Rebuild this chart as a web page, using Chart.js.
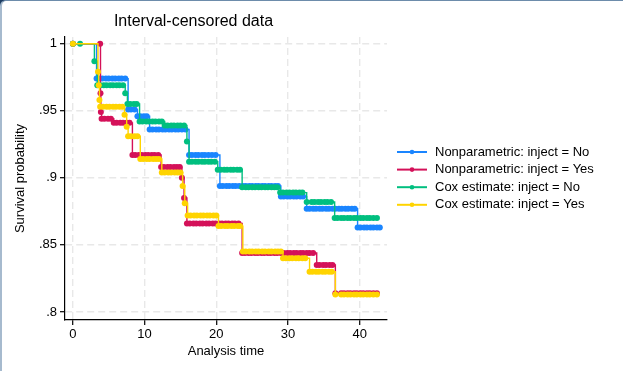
<!DOCTYPE html>
<html>
<head>
<meta charset="utf-8">
<title>Interval-censored data</title>
<script src="https://cdn.jsdelivr.net/npm/chart.js@4.4.0/dist/chart.umd.min.js"></script>
<style>
  html, body { margin: 0; padding: 0; background: #1d3d63; overflow: hidden; }
  #marco {
    position: absolute; left: 0; top: 0; width: 621px; height: 370px;
    background: #fff; border-left: 2px solid #a6bace; border-top: 1px solid #6d8cab;
    border-top-left-radius: 6px;
  }
  #grafico { position: absolute; left: 0; top: 0; }
</style>
</head>
<body>
<div id="marco"></div>
<canvas id="grafico" width="623" height="371"></canvas>
<script>
// Curvas de supervivencia - datos censurados por intervalo
// Cada punto: [tiempo, supervivencia]

const npNo = [
  [0, 1],
  [3.3, .974], [3.7, .974], [4.1, .974], [4.6, .974], [5.0, .974], [5.5, .974], [5.9, .974], [6.4, .974], [6.8, .974], [7.3, .974],
  [7.7, .951], [8.1, .951], [8.6, .951],
  [9.0, .946], [9.4, .946], [9.9, .946], [10.3, .946],
  [10.7, .936], [11.1, .936], [11.6, .936], [12.0, .936], [12.5, .936], [12.9, .936], [13.4, .936], [13.8, .936], [14.3, .936], [14.7, .936], [15.2, .936], [15.7, .936],
  [16.2, .917], [16.6, .917], [17.1, .917], [17.5, .917], [18.0, .917], [18.4, .917], [18.9, .917], [19.4, .917], [19.9, .917],
  [20.5, .894], [20.9, .894], [21.4, .894], [21.8, .894], [22.3, .894], [22.7, .894], [23.2, .894], [23.7, .894], [24.1, .894], [24.6, .894],
  [25.0, .894], [25.5, .894], [25.9, .894], [26.4, .894], [26.8, .894], [27.3, .894], [27.7, .894], [28.2, .894], [28.6, .894],
  [29.0, .886], [29.4, .886], [29.9, .886], [30.3, .886], [30.8, .886], [31.2, .886], [31.7, .886], [32.1, .886],
  [32.6, .877], [33.0, .877], [33.5, .877], [33.9, .877], [34.4, .877], [34.8, .877], [35.3, .877], [35.7, .877],
  [36.2, .877], [36.6, .877], [37.1, .877], [37.5, .877], [38.0, .877], [38.4, .877], [38.9, .877], [39.3, .877],
  [39.7, .863], [40.1, .863], [40.6, .863], [41.0, .863], [41.5, .863], [41.9, .863], [42.4, .863], [42.8, .863],
]

const npYes = [
  [0, 1], [3.8, 1],
  [3.85, .963], [3.9, .949],
  [4.0, .944], [4.4, .944], [4.9, .944], [5.3, .944],
  [5.7, .941], [6.1, .941], [6.6, .941], [7.0, .941], [7.5, .941], [7.9, .941],
  [8.3, .917], [8.7, .917], [9.2, .917], [9.6, .917], [10.1, .917], [10.5, .917], [11.0, .917], [11.4, .917], [11.9, .917],
  [12.3, .908], [12.7, .908], [13.2, .908], [13.6, .908], [14.1, .908], [14.5, .908], [14.9, .908],
  [15.2, .900], [15.5, .885],
  [15.9, .866], [16.3, .866], [16.8, .866], [17.2, .866], [17.7, .866], [18.1, .866], [18.6, .866], [19.0, .866], [19.5, .866],
  [19.9, .866], [20.4, .866], [20.8, .866], [21.3, .866], [21.7, .866], [22.2, .866], [22.6, .866], [23.1, .866],
  [23.6, .844], [24.0, .844], [24.5, .844], [24.9, .844], [25.4, .844], [25.8, .844], [26.3, .844], [26.7, .844], [27.2, .844],
  [27.6, .844], [28.1, .844], [28.5, .844], [29.0, .844], [29.4, .844], [29.9, .844], [30.3, .844], [30.8, .844], [31.2, .844],
  [31.7, .844], [32.1, .844], [32.6, .844], [33.0, .844], [33.5, .844],
  [34.0, .835], [34.4, .835], [34.9, .835], [35.3, .835], [35.8, .835], [36.2, .835],
  [36.6, .814], [37.4, .814], [37.8, .814], [38.3, .814], [38.7, .814], [39.2, .814], [39.6, .814], [40.1, .814], [40.5, .814],
  [41.0, .814], [41.4, .814], [41.9, .814], [42.4, .814],
]

const coxNo = [
  [0, 1], [1.0, 1],
  [3.0, .987],
  [3.4, .969], [3.8, .969], [4.3, .969], [4.7, .969], [5.2, .969], [5.6, .969], [6.1, .969], [6.5, .969], [7.0, .969],
  [7.3, .963],
  [7.6, .955], [8.0, .955], [8.5, .955], [8.9, .955],
  [9.3, .942], [9.7, .942], [10.2, .942], [10.6, .942], [11.1, .942], [11.5, .942], [12.0, .942], [12.4, .942],
  [12.8, .939], [13.2, .939], [13.7, .939], [14.1, .939], [14.6, .939], [15.0, .939], [15.5, .939],
  [15.9, .927],
  [16.2, .912], [16.6, .912], [17.1, .912], [17.5, .912], [18.0, .912], [18.4, .912], [18.9, .912], [19.3, .912], [19.8, .912],
  [20.2, .906], [20.6, .906], [21.1, .906], [21.5, .906], [22.0, .906], [22.4, .906], [22.9, .906], [23.3, .906],
  [23.6, .893], [24.1, .893], [24.5, .893], [25.0, .893], [25.4, .893], [25.9, .893], [26.3, .893], [26.8, .893], [27.2, .893],
  [27.7, .893], [28.1, .893], [28.5, .893],
  [28.9, .889], [29.3, .889], [29.8, .889], [30.2, .889], [30.7, .889], [31.1, .889], [31.6, .889], [32.0, .889],
  [32.6, .882], [33.3, .882], [33.7, .882], [34.2, .882], [34.6, .882], [35.1, .882], [35.5, .882], [36.0, .882],
  [36.5, .870], [36.9, .870], [37.4, .870], [37.8, .870], [38.3, .870], [38.7, .870], [39.2, .870], [39.6, .870],
  [40.1, .870], [40.5, .870], [41.0, .870], [41.4, .870], [41.9, .870], [42.4, .870],
]

const coxYes = [
  [0, 1],
  [3.5, .979], [3.6, .969], [3.7, .958],
  [3.8, .953], [4.2, .953], [4.7, .953], [5.1, .953], [5.6, .953], [6.0, .953], [6.5, .953], [6.9, .953],
  [7.2, .947], [7.5, .938],
  [7.7, .931], [8.1, .931], [8.6, .931], [9.0, .931],
  [9.4, .914], [9.8, .914], [10.3, .914], [10.7, .914], [11.2, .914], [11.6, .914], [12.0, .914],
  [12.4, .904], [12.8, .904], [13.3, .904], [13.7, .904], [14.2, .904], [14.6, .904], [15.0, .904],
  [15.3, .894], [15.6, .881],
  [16.0, .872], [16.4, .872], [16.9, .872], [17.3, .872], [17.8, .872], [18.2, .872], [18.7, .872], [19.1, .872], [19.6, .872], [20.0, .872],
  [20.3, .864], [20.7, .864], [21.2, .864], [21.6, .864], [22.1, .864], [22.5, .864], [23.0, .864], [23.3, .864],
  [23.7, .845], [24.1, .845], [24.6, .845], [25.0, .845], [25.5, .845], [25.9, .845], [26.4, .845], [26.8, .845], [27.3, .845],
  [27.7, .845], [28.2, .845], [28.6, .845], [29.0, .845],
  [29.3, .840], [29.7, .840], [30.2, .840], [30.6, .840], [31.1, .840], [31.5, .840], [32.0, .840], [32.4, .840],
  [33.0, .830], [33.4, .830], [33.9, .830], [34.3, .830], [34.8, .830], [35.2, .830], [35.7, .830], [36.1, .830],
  [36.6, .813], [37.4, .813], [37.8, .813], [38.3, .813], [38.7, .813], [39.2, .813], [39.6, .813], [40.1, .813], [40.5, .813],
  [41.0, .813], [41.4, .813], [41.9, .813], [42.4, .813],
]

const etiquetas = [
  'Nonparametric: inject = No',
  'Nonparametric: inject = Yes',
  'Cox estimate: inject = No',
  'Cox estimate: inject = Yes',
]
const ticksX = [0, 10, 20, 30, 40]
const ticksY = [0.8, 0.85, 0.9, 0.95, 1]

const colores = ['#1a85ff', '#d41159', '#00bf7f', '#ffd400']
const fuente = '"Liberation Sans", Arial, Helvetica, sans-serif'

Chart.defaults.font.family = fuente
Chart.defaults.color = '#000'

// Leyenda dibujada a la derecha, estilo línea con punto
const leyendaPlugin = {
  id: 'leyenda',
  afterDraw(chart) {
    const ctx = chart.ctx
    ctx.save()
    ctx.font = '13px ' + fuente
    ctx.textBaseline = 'middle'
    etiquetas.forEach((txt, i) => {
      const y = 152 + i * 17.6
      ctx.strokeStyle = colores[i]
      ctx.lineWidth = 2
      ctx.beginPath()
      ctx.moveTo(397, y)
      ctx.lineTo(427, y)
      ctx.stroke()
      ctx.fillStyle = colores[i]
      ctx.beginPath()
      ctx.arc(412, y, 2.3, 0, Math.PI * 2)
      ctx.fill()
      ctx.fillStyle = '#000'
      ctx.fillText(txt, 435, y)
    })
    ctx.restore()
  },
}

const series = [npNo, npYes, coxNo, coxYes]
// orden de dibujo: amarillo encima, luego verde, rojo, azul
const ordenes = [4, 3, 2, 1]

const datasets = series.map((s, i) => ({
  label: etiquetas[i],
  data: s.map(p => ({ x: p[0], y: p[1] })),
  borderColor: colores[i],
  backgroundColor: colores[i],
  borderWidth: 1.4,
  stepped: true,
  pointRadius: 3,
  pointBorderWidth: 0,
  pointHoverRadius: 3,
  fill: false,
  order: ordenes[i],
}))

const ctx = document.getElementById('grafico').getContext('2d')
new Chart(ctx, {
  type: 'line',
  data: { datasets },
  options: {
    responsive: false,
    animation: false,
    events: [],
    layout: { padding: { left: 0, right: 236, top: 0, bottom: 0 } },
    plugins: {
      legend: { display: false },
      tooltip: { enabled: false },
      title: {
        display: true,
        text: 'Interval-censored data',
        color: '#000',
        font: { size: 16, weight: 'normal' },
        padding: { top: 12, bottom: 5.8 },
      },
    },
    scales: {
      x: {
        type: 'linear',
        min: -1.1,
        max: 43.8,
        afterBuildTicks: scale => { scale.ticks = ticksX.map(v => ({ value: v })) },
        afterFit: scale => { scale.height = 51 },
        ticks: { font: { size: 13 }, color: '#000', padding: 2, maxRotation: 0 },
        grid: { color: '#e8e8e8', lineWidth: 1.4, tickColor: '#000', tickLength: 5, tickWidth: 1.2 },
        border: { display: true, color: '#000', width: 1.2, dash: [7, 4] },
        title: { display: true, text: 'Analysis time', font: { size: 13 }, color: '#000', padding: { top: 0, bottom: 12 } },
      },
      y: {
        min: 0.794,
        max: 1.005,
        afterBuildTicks: scale => { scale.ticks = ticksY.map(v => ({ value: v })) },
        afterFit: scale => { scale.width = 65 },
        ticks: {
          font: { size: 13 },
          color: '#000',
          padding: 3,
          callback: v => (v === 1 ? '1' : String(v).replace('0.', '.')),
        },
        grid: { color: '#e8e8e8', lineWidth: 1.4, tickColor: '#000', tickLength: 5, tickWidth: 1.2 },
        border: { display: true, color: '#000', width: 1.2, dash: [7, 4] },
        title: { display: true, text: 'Survival probability', font: { size: 13 }, color: '#000', padding: { top: 13, bottom: 0 } },
      },
    },
  },
  plugins: [leyendaPlugin],
})
</script>
</body>
</html>
